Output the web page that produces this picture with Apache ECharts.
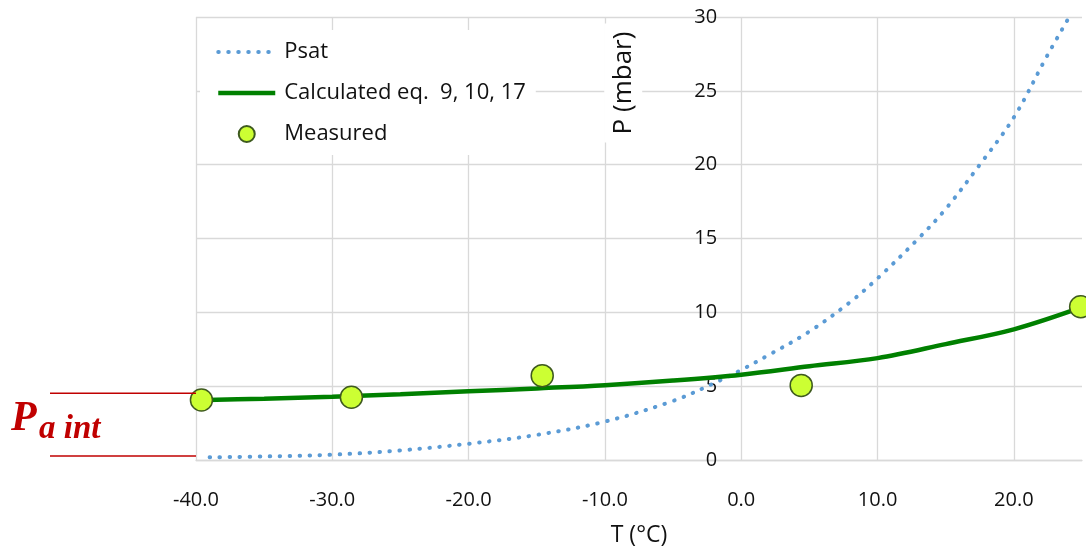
<!DOCTYPE html>
<html>
<head>
<meta charset="utf-8">
<script src="https://cdn.jsdelivr.net/npm/echarts@6/dist/echarts.min.js"></script>
<style>
html,body{margin:0;padding:0;background:#fff;}
#c{width:1086px;height:551px;}
</style>
</head>
<body>
<div id="c"></div>
<script>
// Saturation pressure curve (dotted blue)
const psatT = [-39, -35, -30, -25, -20, -15, -10, -5, -2, 0, 2, 5, 8, 10, 13, 15, 17.5, 20, 22.4, 24];
const psatP = [0.18, 0.24, 0.36, 0.65, 1.1, 1.7, 2.6, 4.0, 5.2, 6.1, 7.1, 8.7, 10.7, 12.3, 15.0, 17.0, 20.0, 23.2, 27.3, 29.9];
// Calculated eq. 9, 10, 17 (green)
const calcT = [-40, -35, -30, -25, -20, -15, -10, -5, 0, 5, 10, 15, 20, 25];
const calcP = [4.05, 4.15, 4.28, 4.45, 4.65, 4.85, 5.07, 5.38, 5.78, 6.35, 6.9, 7.85, 8.85, 10.35];
// Measured points
const measT = [-39.6, -28.6, -14.6, 4.4, 24.9];
const measP = [4.06, 4.25, 5.71, 5.05, 10.38];
// Axis ticks
const xTicks = [-40, -30, -20, -10, 0, 10, 20];
const yTicks = [0, 5, 10, 15, 20, 25, 30];
// Pa int band levels (mbar)
const paintLevels = [4.52, 0.27];

const seriesNames = ['Psat', 'Calculated eq.  9, 10, 17', 'Measured'];
const pair = (xs, ys) => xs.map((x, i) => [x, ys[i]]);

const FONT = 'Open Sans';
const TXT = '#111';
const GRID = '#d9d9d9';
const BLUE = '#5B9BD5';
const GREEN = '#008000';
const psatLine = {color: BLUE, width: 4, type: [0.5, 9.5], cap: 'round'};
const calcLine = {color: GREEN, width: 4.5};

const chart = echarts.init(document.getElementById('c'), null, {renderer: 'canvas'});
chart.setOption({
  animation: false,
  backgroundColor: '#fff',
  textStyle: {fontFamily: FONT},
  grid: {left: 196, right: 4, top: 17, bottom: 91, outerBoundsMode: 'none'},
  legend: {
    orient: 'vertical', left: 200, top: 30,
    padding: [11, 10, 10, 16],
    backgroundColor: '#fff',
    itemWidth: 57, itemHeight: 16, itemGap: 19,
    textStyle: {fontSize: 22, color: TXT, fontFamily: FONT, lineHeight: 20, padding: [0, 0, 0, 4]},
    data: [
      {name: seriesNames[0], itemStyle: {opacity: 0}, lineStyle: psatLine},
      {name: seriesNames[1], itemStyle: {opacity: 0}, lineStyle: calcLine},
      {name: seriesNames[2]}
    ]
  },
  xAxis: {
    type: 'value', min: xTicks[0], max: 25, interval: 10,
    axisLine: {show: true, onZero: true, lineStyle: {color: GRID, width: 1.3}},
    axisTick: {show: false},
    splitLine: {show: true, showMaxLine: false, lineStyle: {color: GRID, width: 1.3}},
    axisLabel: {
      margin: 30, fontSize: 20, color: TXT, fontFamily: FONT,
      formatter: v => (xTicks.indexOf(v) >= 0 ? v.toFixed(1) : '')
    },
    name: 'T (°C)', nameLocation: 'middle', nameGap: 64,
    nameTextStyle: {fontSize: 23, color: TXT, fontFamily: FONT}
  },
  yAxis: {
    type: 'value', position: 'left', min: yTicks[0], max: yTicks[yTicks.length - 1], interval: 5,
    axisLine: {show: false, onZero: false},
    axisTick: {show: false},
    splitLine: {show: true, lineStyle: {color: GRID, width: 1.3}},
    axisLabel: {margin: 24, fontSize: 20, color: TXT, fontFamily: FONT}
  },
  series: [
    {
      name: seriesNames[0], type: 'line', data: pair(psatT, psatP),
      smooth: 0.35, symbol: 'none', z: 2,
      color: BLUE, lineStyle: psatLine
    },
    {
      name: seriesNames[1], type: 'line', data: pair(calcT, calcP),
      smooth: 0.35, symbol: 'none', z: 3,
      color: GREEN, lineStyle: calcLine
    },
    {
      name: seriesNames[2], type: 'scatter', data: pair(measT, measP),
      symbol: 'circle', symbolSize: 22, z: 5,
      color: '#CCFF33',
      itemStyle: {color: '#CCFF33', borderColor: '#3E5A1F', borderWidth: 1.5, opacity: 1}
    }
  ]
});

// Place the value axis at T = 0 and add annotations, all from the axis scales
const xLeft = chart.convertToPixel({xAxisIndex: 0}, xTicks[0]);
const xZero = chart.convertToPixel({xAxisIndex: 0}, 0);
const yTop = chart.convertToPixel({yAxisIndex: 0}, paintLevels[0]);
const yBot = chart.convertToPixel({yAxisIndex: 0}, paintLevels[1]);
const yMax = chart.convertToPixel({yAxisIndex: 0}, yTicks[yTicks.length - 1]);
const RED = '#C00000';
chart.setOption({
  yAxis: {offset: -(xZero - xLeft)},
  graphic: [
    {type: 'line', shape: {x1: 50, y1: yTop, x2: xLeft, y2: yTop}, style: {stroke: RED, lineWidth: 1.6}, z: 10},
    {type: 'line', shape: {x1: 50, y1: yBot, x2: xLeft, y2: yBot}, style: {stroke: RED, lineWidth: 1.6}, z: 10},
    {type: 'text', x: 11, y: (yTop + yBot) / 2 + 16, z: 10,
      style: {text: 'P', fill: RED, font: 'italic bold 42px "Liberation Serif"', textAlign: 'left', textVerticalAlign: 'bottom'}},
    {type: 'text', x: 39, y: (yTop + yBot) / 2 + 21, z: 10,
      style: {text: 'a int', fill: RED, font: 'italic bold 33px "Liberation Serif"', textAlign: 'left', textVerticalAlign: 'bottom'}},
    {type: 'text', x: xZero - 118, y: yMax + 66, rotation: Math.PI / 2, z: 10,
      style: {text: 'P (mbar)', fill: TXT, font: '26px "Open Sans"', textAlign: 'center', textVerticalAlign: 'middle',
        backgroundColor: '#fff', padding: [6, 8]}}
  ]
});
</script>
</body>
</html>
